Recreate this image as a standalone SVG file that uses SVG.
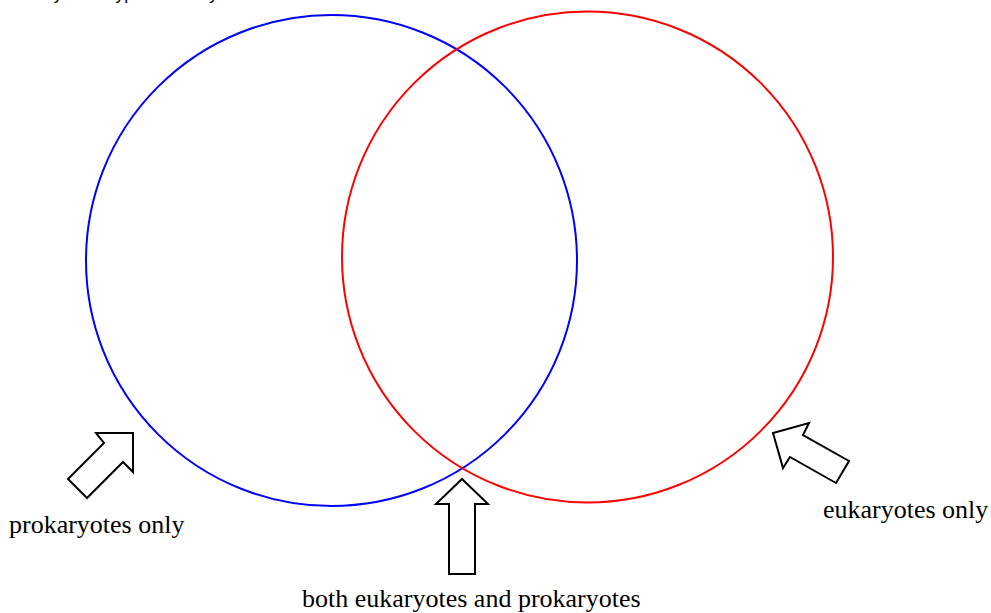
<svg xmlns="http://www.w3.org/2000/svg" width="991" height="613" viewBox="0 0 991 613">
<style>
.lbl{font-family:"Liberation Serif","Times New Roman",serif;font-size:26px;fill:#000}
.arrow{fill:#fff;stroke:#000;stroke-width:2;stroke-linejoin:miter}
.circ{fill:none;stroke-width:2}
</style>
<rect width="991" height="613" fill="#fff"/>
<text x="1" y="-1" style="font-family:'Liberation Sans',Arial,sans-serif;font-size:17.6px;fill:#000">Classify each type of cell by</text>
<g id="prokaryotes-circle"><circle class="circ" cx="331.5" cy="260.5" r="245.5" stroke="#0000ff"/></g>
<g id="eukaryotes-circle"><circle class="circ" cx="587.5" cy="257" r="245.5" stroke="#ff0000"/></g>
<g id="connectors">
<polygon class="arrow" points="96,433 133,433 133,472 123,462 87,498 68,479 104,443"/>
<polygon class="arrow" points="462,479 488,504 475,504 475,574 449,574 449,504 436,504"/>
<polygon class="arrow" points="773,433 809,423 803,435 849,461 836,483 790,457 783,468"/>
</g>
<g id="label-prokaryotes"><text class="lbl" x="9" y="533">prokaryotes only</text></g>
<g id="label-both"><text class="lbl" x="302" y="607">both eukaryotes and prokaryotes</text></g>
<g id="label-eukaryotes"><text class="lbl" x="823" y="518">eukaryotes only</text></g>
</svg>
